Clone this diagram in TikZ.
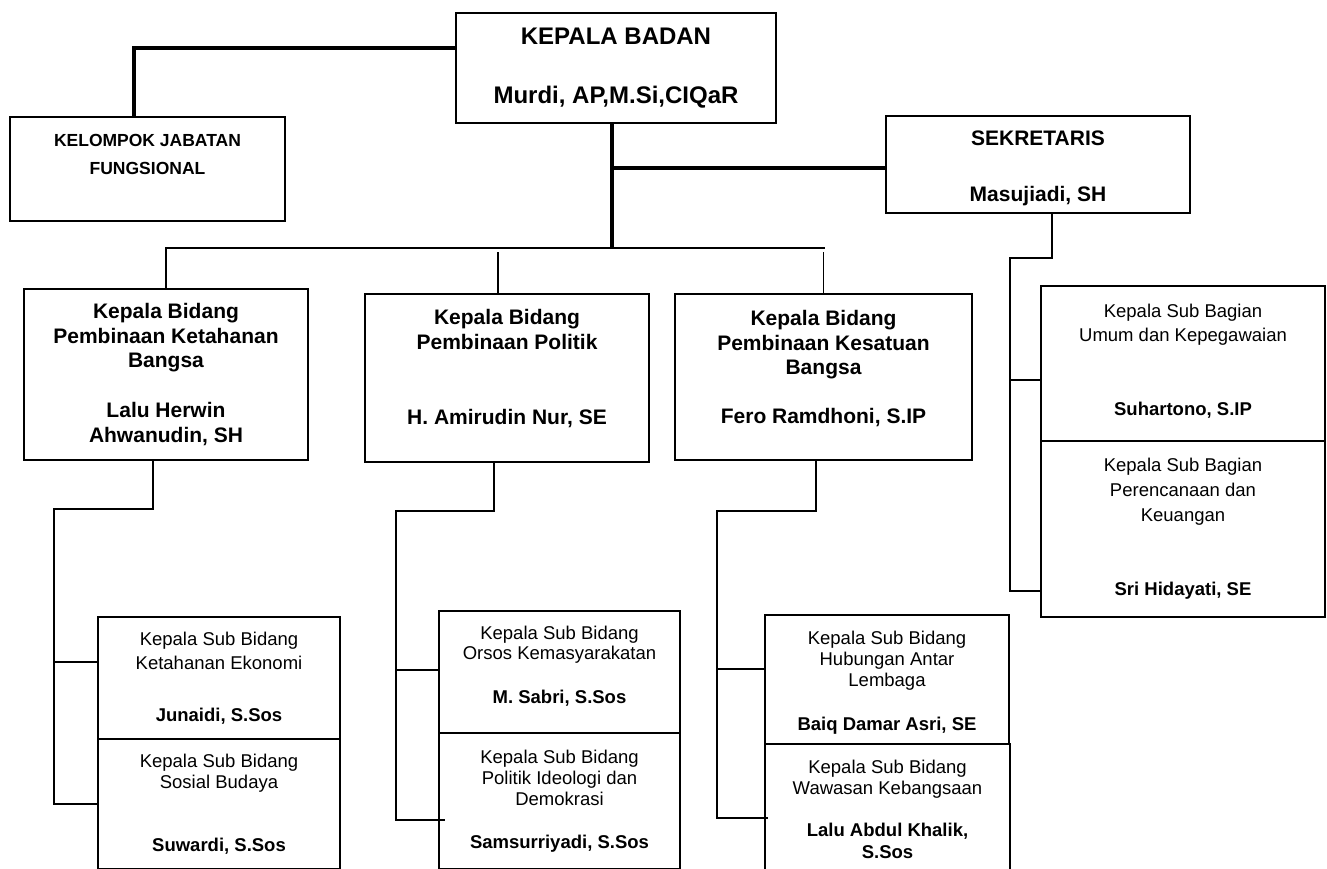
\documentclass[tikz,border=0pt]{standalone}
\usepackage{fontspec}
\setmainfont{Liberation Sans}
\begin{document}
\begin{tikzpicture}[x=1pt,y=-1pt,
        box/.style={draw,line width=1.8pt,inner sep=0pt,align=center},
        boss/.style={box,font=\fontsize{24}{28}\selectfont\bfseries},
        jf/.style={box,font=\fontsize{17.5}{28}\selectfont\bfseries},
        sek/.style={box,font=\fontsize{21}{25}\selectfont\bfseries},
        bid/.style={box,font=\fontsize{21}{24.5}\selectfont\bfseries},
        sub/.style={box,font=\fontsize{18.5}{23}\selectfont},
        trunk/.style={line width=4.5pt},
        link/.style={line width=1.8pt}]
        \useasboundingbox (0,0) rectangle (1327,868);
        \node[boss,minimum width=320,minimum height=110] (kaban) at (616,68) {KEPALA BADAN\\[31pt]Murdi, AP,M.Si,CIQaR};
        \node[jf,minimum width=275,minimum height=104] (jafung) at (147.5,169) {KELOMPOK JABATAN\\FUNGSIONAL\\[2pt]\mbox{}};
        \node[sek,minimum width=304,minimum height=97] (sekre) at (1038,164.5) {\rule{0pt}{23pt}SEKRETARIS\\[31pt]Masujiadi, SH};
        \node[bid,minimum width=284,minimum height=171] (tahan) at (166,374.5) {Kepala Bidang\\Pembinaan Ketahanan\\Bangsa\\[25.5pt]Lalu Herwin\\Ahwanudin, SH};
        \node[bid,minimum width=284,minimum height=168] (politik) at (507,378) {Kepala Bidang\\Pembinaan Politik\\[50.5pt]H. Amirudin Nur, SE\\[-2.5pt]\mbox{}};
        \node[bid,minimum width=297,minimum height=166] (satuan) at (823.5,377) {Kepala Bidang\\Pembinaan Kesatuan\\Bangsa\\[24.5pt]Fero Ramdhoni, S.IP\\[-4.5pt]\mbox{}};
        \node[sub,minimum width=284,minimum height=155] (umum) at (1183,363.5) {Kepala Sub Bagian\\[1pt]Umum dan Kepegawaian\\[51pt]\textbf{Suhartono, S.IP}\\[-15pt]\mbox{}};
        \node[sub,minimum width=284,minimum height=176] (renkeu) at (1183,529) {Kepala Sub Bagian\\[2pt]Perencanaan dan\\[2pt]Keuangan\\[51pt]\textbf{Sri Hidayati, SE}};
        \node[sub,minimum width=242,minimum height=122] (ekonomi) at (219,678) {Kepala Sub Bidang\\[1pt]Ketahanan Ekonomi\\[29pt]\textbf{Junaidi, S.Sos}};
        \node[sub,minimum width=242,minimum height=130] (sosbud) at (219,804) {Kepala Sub Bidang\\[-2pt]Sosial Budaya\\[40pt]\textbf{Suwardi, S.Sos}};
        \node[sub,minimum width=241,minimum height=122] (orsos) at (559.5,672) {Kepala Sub Bidang\\[-3pt]Orsos Kemasyarakatan\\[21pt]\textbf{M. Sabri, S.Sos}\\[-9pt]\mbox{}};
        \node[sub,minimum width=241,minimum height=136] (ideologi) at (559.5,801) {Kepala Sub Bidang\\[-2pt]Politik Ideologi dan\\[-2pt]Demokrasi\\[20pt]\textbf{Samsurriyadi, S.Sos}};
        \node[sub,minimum width=244,minimum height=129] (lembaga) at (887,679.5) {\rule{0pt}{19pt}Kepala Sub Bidang\\[-2pt]Hubungan Antar\\[-2pt]Lembaga\\[21pt]\textbf{Baiq Damar Asri, SE}};
        \node[sub,minimum width=245,minimum height=131] (wawasan) at (887.5,809.5) {Kepala Sub Bidang\\[-2pt]Wawasan Kebangsaan\\[19pt]\textbf{Lalu Abdul Khalik,}\\[-1pt]\textbf{S.Sos}};
        \coordinate (hub) at (612,248);
        \coordinate (busend) at (825,248);
        \draw[trunk] ([yshift=20pt]kaban.west) -| ([xshift=-13.5pt]jafung.north);
        \draw[trunk] ([xshift=-4pt]kaban.south) -- (hub);
        \draw[trunk] ([yshift=-3.5pt]sekre.west) -- ([yshift=-3.5pt]sekre.west -| hub);
        \draw[link] (tahan.north) |- (busend);
        \draw[link] ([xshift=-9pt]politik.north) -- ++(0,-41);
        \draw[link] (satuan.north) -- ++(0,-41);
        \draw[link] ([xshift=-13pt]tahan.south) |- ++(-99,48) |- (sosbud.west);
        \draw[link] ([yshift=16pt]ekonomi.west) -- ++(-44,0);
        \draw[link] ([xshift=-13pt]politik.south) |- ++(-98,48) |- ([xshift=7pt,yshift=-19pt]ideologi.west);
        \draw[link] ([yshift=2pt]orsos.west) -- ++(-43,0);
        \draw[link] ([xshift=-7.5pt]satuan.south) |- ++(-99,50) |- ([xshift=4pt,yshift=-8.5pt]wawasan.west);
        \draw[link] ([yshift=10.5pt]lembaga.west) -- ++(-48,0);
        \draw[link] ([xshift=14pt]sekre.south) |- ++(-42,44) |- ([yshift=-62pt]renkeu.west);
        \draw[link] ([yshift=-16.5pt]umum.west) -- ++(-31,0);
    \end{tikzpicture}
\end{document}
